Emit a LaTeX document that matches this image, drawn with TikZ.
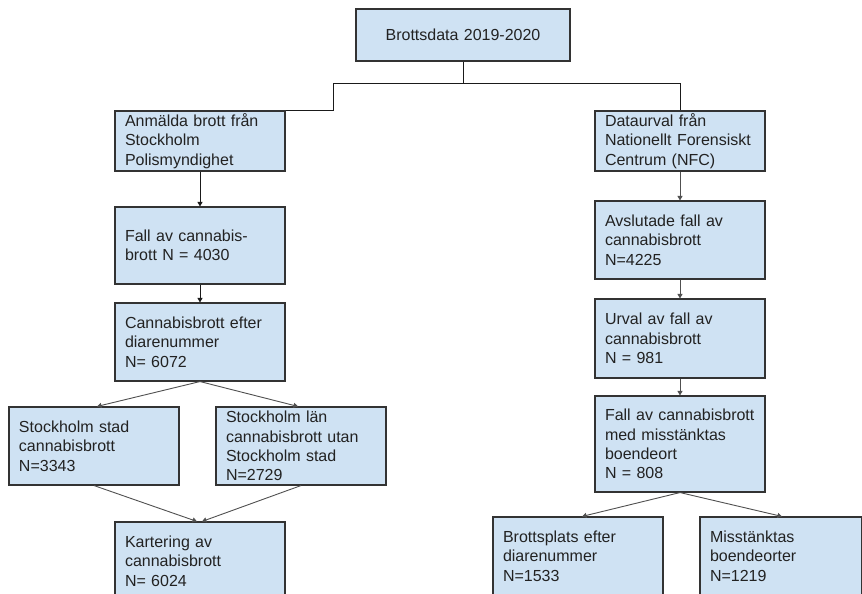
\documentclass[tikz,border=0pt]{standalone}
\usepackage{fontspec}
\setmainfont{Liberation Sans}
\usetikzlibrary{arrows.meta}
\definecolor{boxfill}{HTML}{CFE2F3}
\definecolor{boxline}{HTML}{333333}
\definecolor{txt}{HTML}{222222}
\definecolor{conndark}{HTML}{1A1A1A}
\definecolor{conngray}{HTML}{505050}
\tikzset{
  box/.style={draw=boxline, fill=boxfill, line width=1.1pt, rectangle,
    minimum width=170pt, inner xsep=10pt, inner ysep=0pt, text width=150pt,
    align=left, text=txt, font=\fontsize{16}{19.3}\selectfont},
  topbox/.style={box, minimum width=214pt, text width=194pt, align=center, minimum height=52pt},
  link/.style={draw=conndark, line width=0.9pt},
  arr/.style={link, -{Triangle[width=5pt,length=4.5pt]}},
  garr/.style={arr, draw=conngray}
}
\begin{document}
\begin{tikzpicture}[x=1pt,y=-1pt]
\useasboundingbox (0,0) rectangle (862,594);
\clip (0,0) rectangle (862,594);
\fill[white] (0,0) rectangle (862,594);

\node[topbox] (top) at (463,35) {Brottsdata 2019-2020};

% left column
\node[box, minimum height=60pt] (anm) at (200,141) {Anmälda brott från\\Stockholm\\Polismyndighet};
\node[box, minimum height=77pt] (fall) at (200,245.5) {Fall av cannabis-\\brott N = 4030};
\node[box, minimum height=78pt] (cb) at (200,342) {Cannabisbrott efter\\diarenummer\\N= 6072};
\node[box, minimum height=78pt] (ss) at (94,446) {Stockholm stad\\cannabisbrott\\N=3343};
\node[box, minimum height=78pt] (sl) at (301,446) {Stockholm län\\cannabisbrott utan\\Stockholm stad\\N=2729};
\node[box, minimum height=100pt] (kart) at (200,572) {Kartering av\\cannabisbrott\\N= 6024\\[2.7pt]\mbox{}};

% right column
\node[box, minimum height=60pt] (dat) at (680,141) {Dataurval från\\Nationellt Forensiskt\\Centrum (NFC)};
\node[box, minimum height=78pt] (avs) at (680,240) {Avslutade fall av\\cannabisbrott\\N=4225};
\node[box, minimum height=79pt] (urv) at (680,338.5) {Urval av fall av\\cannabisbrott\\N = 981};
\node[box, minimum height=96pt] (fcm) at (680,444) {Fall av cannabisbrott\\med misstänktas\\boendeort\\N = 808};
\node[box, minimum height=100pt] (bp) at (578,567) {Brottsplats efter\\diarenummer\\N=1533\\[2.7pt]\mbox{}};
\node[box, minimum height=100pt, minimum width=162pt, text width=142pt] (mis) at (781,567) {Misstänktas\\boendeorter\\N=1219\\[2.7pt]\mbox{}};

% split connectors
\coordinate (jl) at (333,83);
\coordinate (jr) at (680,83);
\draw[link] (top.south) |- (jl) -- (jl |- anm.north) -- (anm.north east);
\draw[link] (top.south) |- (jr) -- (dat.north);

% left arrows
\draw[arr] (anm.south) -- (fall.north);
\draw[arr] (fall.south) -- (cb.north);
\draw[garr] (cb.south) -- ([xshift=3pt]ss.north);
\draw[garr] (cb.south) -- ([xshift=-3pt]sl.north);
\draw[garr] (ss.south) -- ([xshift=-3pt]kart.north);
\draw[garr] (sl.south) -- ([xshift=2pt]kart.north);

% right arrows
\draw[garr] (dat.south) -- (avs.north);
\draw[garr] (avs.south) -- (urv.north);
\draw[garr] (urv.south) -- (fcm.north);
\draw[garr] (fcm.south) -- ([xshift=4pt]bp.north);
\draw[garr] (fcm.south) -- ([xshift=1pt]mis.north);
\end{tikzpicture}
\end{document}
